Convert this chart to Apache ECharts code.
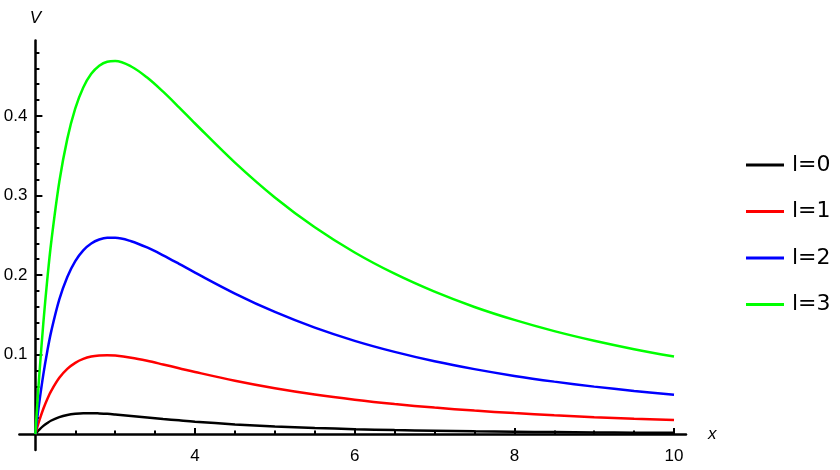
<!DOCTYPE html>
<html>
<head>
<meta charset="utf-8">
<script src="https://cdn.jsdelivr.net/npm/echarts@6/dist/echarts.min.js"></script>
<style>html,body{margin:0;padding:0;background:#fff;}#c{width:840px;height:470px;}</style>
</head>
<body>
<div id="c"></div>
<script>
const xs = [2, 2.02, 2.05, 2.1, 2.15, 2.2, 2.3, 2.4, 2.5, 2.6, 2.7, 2.8, 2.9, 3.0, 3.2, 3.4, 3.6, 3.8, 4.0, 4.5, 5, 5.5, 6, 6.5, 7, 7.5, 8, 8.5, 9, 9.5, 10];
const vL0 = [0, 0.0024, 0.0057, 0.0103, 0.0140, 0.0171, 0.0214, 0.0241, 0.0256, 0.0263, 0.0263, 0.0260, 0.0255, 0.0247, 0.0229, 0.0210, 0.0191, 0.0173, 0.0156, 0.0122, 0.0096, 0.0077, 0.0062, 0.0050, 0.0042, 0.0035, 0.0029, 0.0025, 0.0021, 0.0018, 0.0016];
const vL1 = [0, 0.0073, 0.0173, 0.0319, 0.0442, 0.0546, 0.0708, 0.0820, 0.0896, 0.0945, 0.0975, 0.0989, 0.0993, 0.0988, 0.0961, 0.0922, 0.0876, 0.0829, 0.0781, 0.0671, 0.0576, 0.0497, 0.0432, 0.0378, 0.0333, 0.0296, 0.0264, 0.0237, 0.0213, 0.0193, 0.0176];
const vL2 = [0, 0.0170, 0.0405, 0.0751, 0.1046, 0.1298, 0.1694, 0.1977, 0.2176, 0.2311, 0.2397, 0.2447, 0.2469, 0.2469, 0.2426, 0.2347, 0.2248, 0.2141, 0.2031, 0.1768, 0.1536, 0.1339, 0.1173, 0.1034, 0.0916, 0.0817, 0.0732, 0.0660, 0.0597, 0.0543, 0.0496];
const vL3 = [0, 0.0315, 0.0753, 0.1399, 0.1952, 0.2425, 0.3173, 0.3713, 0.4096, 0.4359, 0.4531, 0.4633, 0.4683, 0.4691, 0.4623, 0.4484, 0.4306, 0.4109, 0.3906, 0.3414, 0.2976, 0.2601, 0.2284, 0.2017, 0.1791, 0.1599, 0.1436, 0.1295, 0.1174, 0.1068, 0.0976];
const seriesNames = ['l=0', 'l=1', 'l=2', 'l=3'];
const seriesColors = ['#000000', '#ff0000', '#0000ff', '#00ff00'];
const xMajor = [4, 6, 8, 10];
const xMinor = [2.5, 3, 3.5, 4.5, 5, 5.5, 6.5, 7, 7.5, 8.5, 9, 9.5];
const yMajor = [0.1, 0.2, 0.3, 0.4];
const yMinor = [0.02, 0.04, 0.06, 0.08, 0.12, 0.14, 0.16, 0.18, 0.22, 0.24, 0.26, 0.28, 0.32, 0.34, 0.36, 0.38, 0.42, 0.44, 0.46, 0.48];

const FONT = "'Liberation Sans', Arial, sans-serif";
const LEGEND_FONT = "'DejaVu Sans', sans-serif";
const allVals = [vL0, vL1, vL2, vL3];
const chart = echarts.init(document.getElementById('c'), null, {renderer: 'canvas'});
const xMin = 1.8, xMax = 10.15, yMin = -0.02, yMax = 0.495;
const yOff = -16;

chart.setOption({
  animation: false,
  backgroundColor: '#ffffff',
  grid: {left: 19.4, right: 154, top: 40.5, bottom: 20, containLabel: false, outerBoundsMode: 'none'},
  legend: {
    orient: 'vertical', left: 741, top: 148,
    icon: 'rect', itemWidth: 38, itemHeight: 3, itemGap: 22.5,
    data: seriesNames,
    textStyle: {fontSize: 22, fontFamily: LEGEND_FONT, color: '#000', lineHeight: 24, padding: [0, 0, 0, 3]}
  },
  xAxis: [
    {
      type: 'value', position: 'bottom', min: xMin, max: xMax,
      name: 'x', nameLocation: 'end', nameGap: 22,
      nameTextStyle: {fontStyle: 'italic', fontSize: 17, fontFamily: FONT, color: '#000', verticalAlign: 'middle', padding: [12, 0, 0, 0]},
      axisLine: {show: true, onZero: true, lineStyle: {color: '#000', width: 2.5}},
      axisTick: {show: true, inside: true, length: 6, customValues: xMajor, lineStyle: {color: '#000', width: 2}},
      axisLabel: {show: true, customValues: xMajor, margin: -2, fontSize: 17, fontFamily: FONT, color: '#000'},
      splitLine: {show: false}
    },
    {
      type: 'value', position: 'bottom', min: xMin, max: xMax,
      axisLine: {show: false, onZero: true},
      axisTick: {show: true, inside: true, length: 3.5, customValues: xMinor, lineStyle: {color: '#000', width: 2}},
      axisLabel: {show: false},
      splitLine: {show: false}
    }
  ],
  yAxis: [
    {
      type: 'value', position: 'left', offset: yOff, min: yMin, max: yMax,
      name: 'V', nameLocation: 'end', nameGap: 14,
      nameTextStyle: {fontStyle: 'italic', fontSize: 17, fontFamily: FONT, color: '#000'},
      axisLine: {show: true, onZero: false, lineStyle: {color: '#000', width: 2.5}},
      axisTick: {show: true, inside: true, length: 7, customValues: yMajor, lineStyle: {color: '#000', width: 2}},
      axisLabel: {show: true, customValues: yMajor, margin: 8, fontSize: 17, fontFamily: FONT, color: '#000'},
      splitLine: {show: false}
    },
    {
      type: 'value', position: 'left', offset: yOff, min: yMin, max: yMax,
      axisLine: {show: false, onZero: false},
      axisTick: {show: true, inside: true, length: 4, customValues: yMinor, lineStyle: {color: '#000', width: 2}},
      axisLabel: {show: false},
      splitLine: {show: false}
    }
  ],
  series: seriesNames.map((n, i) => ({
    name: n, type: 'line', xAxisIndex: 0, yAxisIndex: 0,
    data: xs.map((x, k) => [x, allVals[i][k]]),
    smooth: 0.35, showSymbol: false, symbol: 'none',
    itemStyle: {color: seriesColors[i]},
    lineStyle: {color: seriesColors[i], width: 2.5},
    z: 3 + i
  }))
});
</script>
</body>
</html>
